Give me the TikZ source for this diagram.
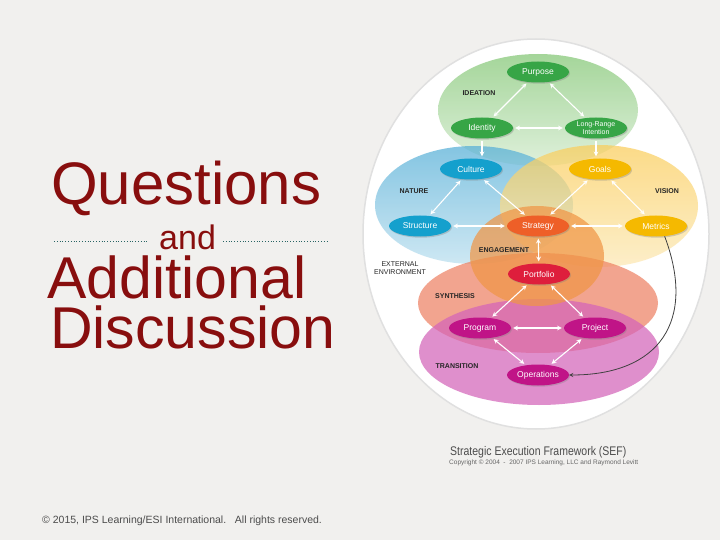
\documentclass[tikz,border=0pt]{standalone}
\usepackage{fontspec}
\setmainfont{Liberation Sans}
\usetikzlibrary{shapes.geometric,shadows}

\definecolor{slideBg}{RGB}{241,240,238}
\definecolor{titleRed}{RGB}{136,14,14}
\definecolor{ruleTeal}{RGB}{40,100,100}
\definecolor{ideaZone}{RGB}{130,198,115}
\definecolor{natureZone}{RGB}{85,175,215}
\definecolor{visionZone}{RGB}{250,205,90}
\definecolor{engageZone}{RGB}{240,150,70}
\definecolor{synthZone}{RGB}{238,130,100}
\definecolor{transZone}{RGB}{212,100,185}
\definecolor{ideaNode}{RGB}{55,165,70}
\definecolor{natureNode}{RGB}{20,160,205}
\definecolor{visionNode}{RGB}{245,185,0}
\definecolor{strategyNode}{RGB}{238,95,40}
\definecolor{portfolioNode}{RGB}{222,30,60}
\definecolor{transNode}{RGB}{192,20,135}

\begin{document}
\begin{tikzpicture}[x=1pt,y=-1pt,>=stealth]

\tikzstyle{zone} = [ellipse, inner sep=0pt, fill opacity=0.72, draw=none]

\tikzstyle{sef} = [ellipse, minimum width=62pt, minimum height=21pt, inner sep=0pt, text=white, font=\fontsize{8.5}{9}\selectfont, drop shadow={shadow xshift=1pt, shadow yshift=-1.2pt, opacity=0.35}]

\tikzstyle{tag} = [font=\bfseries\fontsize{7}{8}\selectfont, text=black!85, align=center, inner sep=0pt]

\tikzstyle{link} = [<->, white, line width=1.1pt, shorten >=2pt, shorten <=2pt]

\tikzstyle{title} = [anchor=base west, inner sep=0pt, text=titleRed]

    % slide
    \fill[slideBg] (0,0) rectangle (720,540);
    \useasboundingbox (0,0) rectangle (720,540);

    % framework disc
    \node[ellipse, minimum width=346pt, minimum height=390pt, fill=white, draw=black!12, line width=1.5pt] (disc) at (536,234) {};

    % zones
    \node[zone, minimum width=200pt, minimum height=112pt, top color=ideaZone, bottom color=ideaZone!35] (ideation) at (538,110) {};
    \node[zone, minimum width=198pt, minimum height=118pt, top color=natureZone, bottom color=natureZone!40] (nature) at (474,205) {};
    \node[zone, minimum width=198pt, minimum height=122pt, top color=visionZone, bottom color=visionZone!45] (vision) at (599,206) {};
    \node[zone, minimum width=240pt, minimum height=100pt, fill=synthZone] (synthesis) at (538,303) {};
    \node[zone, minimum width=240pt, minimum height=106pt, fill=transZone] (transition) at (539,352) {};
    \node[zone, minimum width=134pt, minimum height=100pt, fill=engageZone] (engagement) at (537,256) {};

    % zone labels
    \node[tag] (ideationLbl) at (479,93) {IDEATION};
    \node[tag] (natureLbl) at (414,191) {NATURE};
    \node[tag] (visionLbl) at (667,191) {VISION};
    \node[tag] (engageLbl) at (504,250) {ENGAGEMENT};
    \node[tag, font=\fontsize{7}{8.5}\selectfont] (externalLbl) at (400,268) {EXTERNAL\\ENVIRONMENT};
    \node[tag] (synthLbl) at (455,296) {SYNTHESIS};
    \node[tag] (transLbl) at (457,366) {TRANSITION};

    % elements
    \node[sef, fill=ideaNode] (purpose) at (538,72) {Purpose};
    \node[sef, fill=ideaNode] (identity) at (482,128) {Identity};
    \node[sef, fill=ideaNode, align=center, font=\fontsize{7}{7.5}\selectfont] (longRange) at (596,128) {Long-Range\\Intention};
    \node[sef, fill=natureNode] (culture) at (471,169) {Culture};
    \node[sef, fill=visionNode] (goals) at (600,169) {Goals};
    \node[sef, fill=natureNode] (structure) at (420,226) {Structure};
    \node[sef, fill=strategyNode] (strategy) at (538,226) {Strategy};
    \node[sef, fill=visionNode] (metrics) at (656,226) {Metrics};
    \node[sef, fill=portfolioNode] (portfolio) at (539,274) {Portfolio};
    \node[sef, fill=transNode] (program) at (480,328) {Program};
    \node[sef, fill=transNode] (project) at (595,328) {Project};
    \node[sef, fill=transNode] (operations) at (538,375) {Operations};

    % links
    \draw[link] (purpose) -- (identity);
    \draw[link] (purpose) -- (longRange);
    \draw[link] (identity) -- (longRange);
    \draw[link, <-] (culture.north -| identity.south) -- (identity.south);
    \draw[link, <-] (goals.north -| longRange.south) -- (longRange.south);
    \draw[link] (culture) -- (structure);
    \draw[link] (culture) -- (strategy);
    \draw[link] (goals) -- (strategy);
    \draw[link] (goals) -- (metrics);
    \draw[link] (structure) -- (strategy);
    \draw[link] (strategy) -- (metrics);
    \draw[link] (strategy) -- (portfolio);
    \draw[link] (portfolio) -- (program);
    \draw[link] (portfolio) -- (project);
    \draw[link] (program) -- (project);
    \draw[link] (program) -- (operations);
    \draw[link] (project) -- (operations);
    \draw[->, black!75, line width=0.8pt] (metrics.-50) .. controls +(32,85) and +(90,0) .. (operations.east);

    % caption
    \node[anchor=base west, inner sep=0pt, text=black!70, font=\fontsize{12.5}{13}\selectfont, xscale=0.84] (caption) at (450,455) {Strategic Execution Framework (SEF)};
    \node[anchor=base west, inner sep=0pt, text=black!60, font=\fontsize{6.5}{7}\selectfont] (copyright) at (449,464) {Copyright \textcopyright\ 2004\ \ -\ \ 2007 IPS Learning, LLC and Raymond Levitt};

    % title
    \node[title, font=\fontsize{60}{60}\selectfont] (questions) at (51,205) {Questions};
    \node[title, font=\fontsize{34}{34}\selectfont] (andWord) at (159,249) {and};
    \node[title, font=\fontsize{59}{59}\selectfont] (additional) at (47,298) {Additional};
    \node[title, font=\fontsize{59}{59}\selectfont] (discussion) at (50,348) {Discussion};
    \draw[ruleTeal, dotted, line width=0.8pt] (54,241) -- (147,241);
    \draw[ruleTeal, dotted, line width=0.8pt] (223,241) -- (327,241);

    % footer
    \node[anchor=base west, inner sep=0pt, text=black!70, font=\fontsize{10.5}{11}\selectfont] (footer) at (42,523) {\textcopyright\ 2015, IPS Learning/ESI International.\ \ \ All rights reserved.};

\end{tikzpicture}
\end{document}
